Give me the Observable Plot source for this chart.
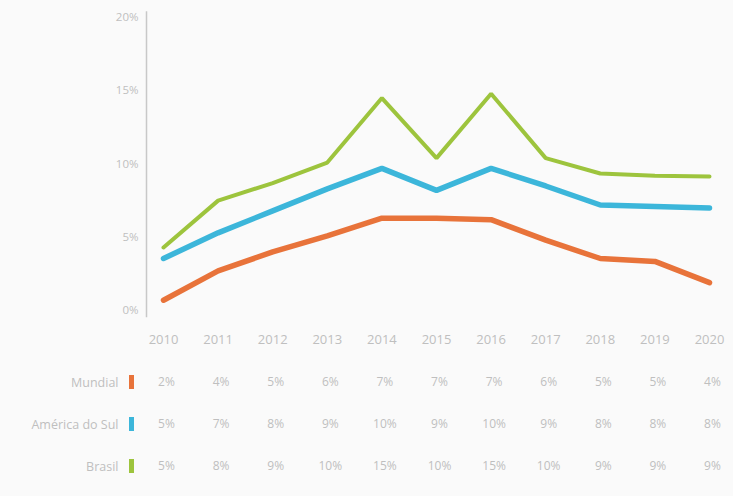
<!DOCTYPE html>
<html>
<head>
<meta charset="utf-8">
<script src="https://cdn.jsdelivr.net/npm/d3@7"></script>
<script src="https://cdn.jsdelivr.net/npm/@observablehq/plot@0.6"></script>
<style>
  html, body { margin: 0; padding: 0; background: #fafafa; }
  #chart { width: 733px; height: 496px; overflow: hidden; }
  #chart svg { display: block; background: transparent; font-family: "Open Sans", sans-serif; }
</style>
</head>
<body>
<div id="chart"></div>
<script>
const years = [2010, 2011, 2012, 2013, 2014, 2015, 2016, 2017, 2018, 2019, 2020];
const seriesNames = ["Mundial", "América do Sul", "Brasil"];
const seriesColors = ["#e8733a", "#3cb6da", "#9dc43d"];

const mundial = [0.7, 2.7, 4.0, 5.1, 6.3, 6.3, 6.2, 4.8, 3.55, 3.35, 1.9];
const americaDoSul = [3.55, 5.3, 6.8, 8.3, 9.7, 8.2, 9.7, 8.5, 7.2, 7.1, 7.0];
const brasil = [4.3, 7.5, 8.7, 10.1, 14.5, 10.4, 14.8, 10.4, 9.35, 9.2, 9.15];

// table labels
const mundialLabels = ["2%", "4%", "5%", "6%", "7%", "7%", "7%", "6%", "5%", "5%", "4%"];
const americaLabels = ["5%", "7%", "8%", "9%", "10%", "9%", "10%", "9%", "8%", "8%", "8%"];
const brasilLabels = ["5%", "8%", "9%", "10%", "15%", "10%", "15%", "10%", "9%", "9%", "9%"];

const yTicks = [0, 5, 10, 15, 20];

const valueSets = [mundial, americaDoSul, brasil];
const labelSets = [mundialLabels, americaLabels, brasilLabels];

const lineData = seriesNames.flatMap((s, i) => years.map((yr, j) => ({series: s, year: yr, value: valueSets[i][j]})));
const tableData = seriesNames.flatMap((s, i) => years.map((yr, j) => ({series: s, year: yr, label: labelSets[i][j]})));

const textColor = "#bfbfbf";
const xScale = {domain: [2010, 2020], insetLeft: 17, insetRight: 24};

const chart = Plot.plot({
  width: 733,
  height: 350,
  marginLeft: 146,
  marginRight: 0,
  marginTop: 17,
  marginBottom: 40,
  style: {background: "transparent", fontFamily: "Open Sans, sans-serif", fontSize: "11.5px"},
  x: {...xScale, ticks: years, tickFormat: d => String(d)},
  y: {domain: [0, 20]},
  color: {domain: seriesNames, range: seriesColors},
  marks: [
    Plot.ruleX([2010], {dx: -17, y1: -0.5, y2: 20.4, stroke: "#c8c8c8", strokeWidth: 1.5}),
    Plot.axisY({ticks: yTicks, tickFormat: d => d + "%", tickSize: 0, tickPadding: 8, fill: textColor, label: null}),
    Plot.axisX({ticks: years, tickFormat: d => String(d), tickSize: 0, tickPadding: 24, fill: textColor, label: null, fontSize: 13}),
    Plot.line(lineData.filter(d => d.series === "Mundial"), {x: "year", y: "value", stroke: seriesColors[0], strokeWidth: 5.5, strokeLinejoin: "miter"}),
    Plot.line(lineData.filter(d => d.series === "América do Sul"), {x: "year", y: "value", stroke: seriesColors[1], strokeWidth: 5.5, strokeLinejoin: "miter"}),
    Plot.line(lineData.filter(d => d.series === "Brasil"), {x: "year", y: "value", stroke: seriesColors[2], strokeWidth: 4, strokeLinejoin: "miter"})
  ]
});

const table = Plot.plot({
  width: 733,
  height: 146,
  marginLeft: 146,
  marginRight: 0,
  marginTop: 0,
  marginBottom: 0,
  style: {background: "transparent", fontFamily: "Open Sans, sans-serif", fontSize: "12.5px"},
  x: {...xScale, axis: null},
  y: {type: "band", domain: seriesNames, range: [11, 137], paddingInner: 0.66, paddingOuter: 0.33, align: 0.5},
  marks: [
    Plot.axisY({anchor: "left", tickSize: 0, tickPadding: 28, fill: textColor, label: null}),
    Plot.tickX(seriesNames.map((s, i) => ({series: s, color: seriesColors[i]})), {x: () => 2010, y: "series", dx: -32, stroke: "color", strokeWidth: 5}),
    Plot.text(tableData, {x: "year", y: "series", text: "label", fill: textColor, fontSize: 12, dx: 3})
  ]
});

const root = document.getElementById("chart");
root.appendChild(chart);
root.appendChild(table);
</script>
</body>
</html>
